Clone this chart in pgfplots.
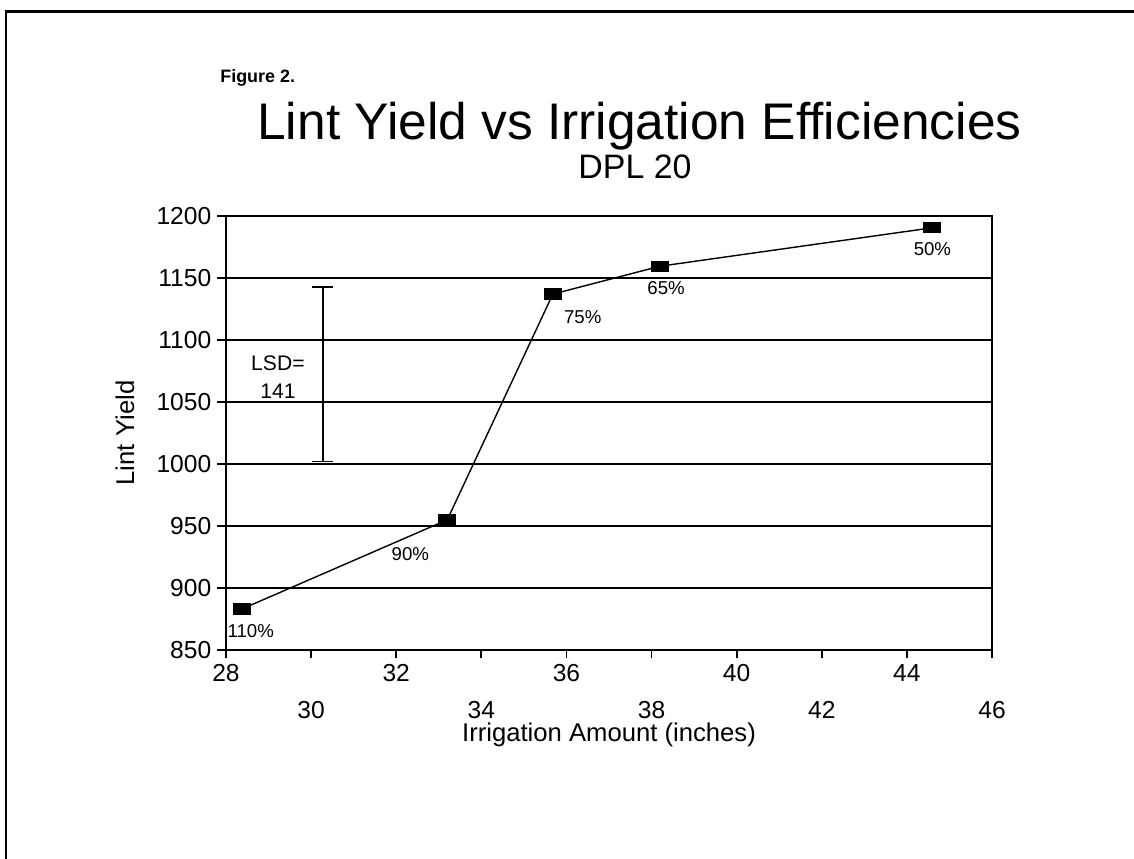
\documentclass[border=0pt]{standalone}
\usepackage{fontspec}
\setmainfont{Liberation Sans}
\usepackage{pgfplots}
\pgfplotsset{compat=1.18}

\begin{document}
\begin{tikzpicture}
\useasboundingbox (0,0) rectangle (22.68,17.18);
% page frame (left and top edges only, as scanned)
\draw[line width=1.7pt] (0.12,0) -- (0.12,16.94) -- (22.68,16.94);

\node[anchor=base west, inner sep=0, font=\fontsize{10.2}{12}\selectfont\bfseries] at (4.4,15.52) {Figure 2.};
\node[anchor=base west, inner sep=0, font=\fontsize{29.3}{35}\selectfont] at (5.14,14.38) {Lint Yield vs Irrigation Efficiencies};
\node[anchor=base, inner sep=0, font=\fontsize{19.3}{23}\selectfont] at (12.7,13.6) {DPL 20};

\begin{axis}[
  at={(4.52cm,4.18cm)}, anchor=south west,
  scale only axis, width=15.32cm, height=8.68cm,
  xmin=28, xmax=46, ymin=850, ymax=1200,
  xtick={28,32,...,44},
  extra x ticks={30,34,...,46},
  extra x tick style={grid=none, tick label style={yshift=-0.74cm}},
  ytick={850,900,...,1200},
  ymajorgrids, grid style={black, line width=0.7pt},
  axis line style={line width=1pt},
  tick style={black, line width=1pt},
  tick align=outside, major tick length=0.17cm,
  xtick pos=bottom, ytick pos=left,
  tick label style={font=\fontsize{14}{16}\selectfont},
  /pgf/number format/assume math mode=true,
  /pgf/number format/1000 sep={},
  xlabel={Irrigation Amount (inches)},
  ylabel={Lint Yield},
  label style={font=\fontsize{14.6}{17}\selectfont},
  xlabel style={at={(axis description cs:0.5,-0.196)}, anchor=center},
  ylabel style={at={(axis description cs:-0.132,0.5)}, anchor=center},
]

% lint yield by irrigation amount, labelled with irrigation efficiency
\addplot[black, line width=0.8pt, mark=square*, mark size=2.8pt,
  mark options={xscale=1.7, solid, fill=black},
  point meta=explicit symbolic,
  visualization depends on={value \thisrow{dx}\as\dx},
  visualization depends on={value \thisrow{dy}\as\dy},
  nodes near coords={\pgfplotspointmeta\%},
  nodes near coords style={anchor=center, inner sep=0pt,
    xshift=\dx pt, yshift=\dy pt, font=\fontsize{10.6}{12}\selectfont},
] table[x=x, y=y, meta=lab] {
x     y      lab dx    dy
28.37 883    110 5.1   -12.5
33.20 955    90  -21.0 -19.3
35.68 1137   75  17.0  -13.0
38.20 1159.5 65  3.4   -12.5
44.60 1190.5 50  0.0   -12.0
};

% LSD bar, 1002 to 1143 (LSD = 141)
\addplot[black, line width=1.1pt, mark=-, mark size=6pt, forget plot]
  coordinates {(30.27,1002) (30.27,1143)};

\node[align=center, font=\fontsize{12}{15.9}\selectfont] at (axis cs:29.22,1070) {LSD=\\141};
\end{axis}
\end{tikzpicture}
\end{document}
